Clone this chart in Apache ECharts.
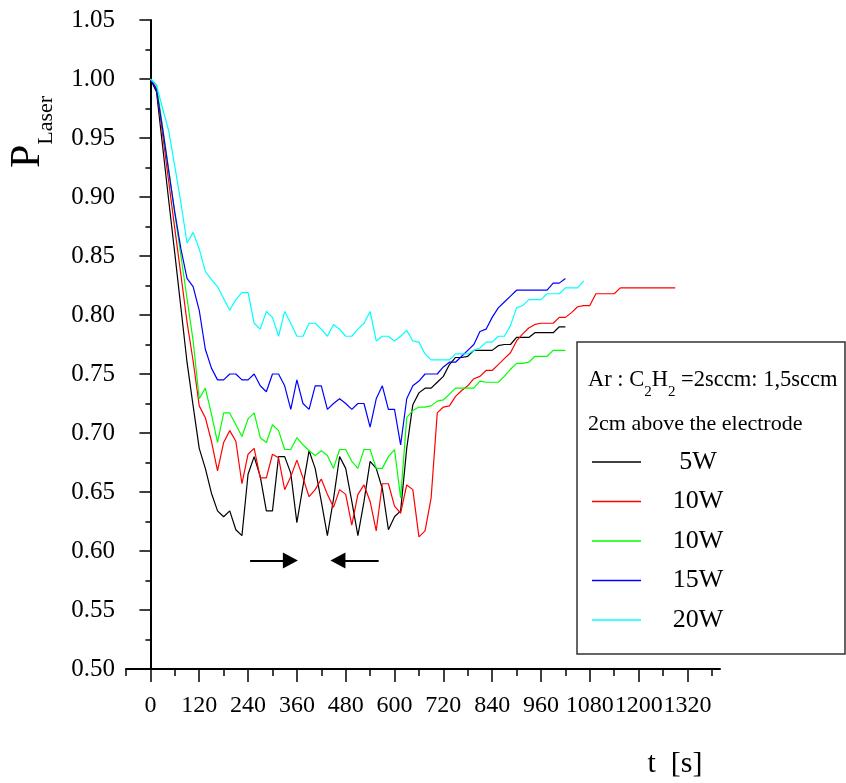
<!DOCTYPE html>
<html><head><meta charset="utf-8">
<script src="https://cdn.jsdelivr.net/npm/echarts@6/dist/echarts.min.js"></script>
<style>html,body{margin:0;padding:0;background:#fff}#c{width:846px;height:783px}</style>
</head><body><div id="c"></div>
<script>
// time axis (s)
const times = [0,15,30,45,60,75,90,105,120,135,150,165,180,195,210,225,240,255,270,285,300,315,330,345,360,375,390,405,420,435,450,465,480,495,510,525,540,555,570,585,600,615,630,645,660,675,690,705,720,735,750,765,780,795,810,825,840,855,870,885,900,915,930,945,960,975,990,1005,1020,1035,1050,1065,1080,1095,1110,1125,1140,1155,1170,1185,1200,1215,1230,1245,1260,1275,1290];

const p5W = [1.000,0.989,0.943,0.897,0.852,0.806,0.760,0.723,0.687,0.670,0.649,0.634,0.629,0.634,0.618,0.613,0.665,0.680,0.663,0.634,0.634,0.680,0.680,0.666,0.624,0.655,0.685,0.670,0.642,0.613,0.644,0.680,0.670,0.642,0.613,0.642,0.676,0.670,0.653,0.618,0.629,0.634,0.687,0.724,0.734,0.738,0.738,0.743,0.748,0.758,0.764,0.764,0.765,0.770,0.770,0.770,0.770,0.774,0.775,0.775,0.781,0.781,0.781,0.785,0.785,0.785,0.785,0.790,0.790];

const p10W = [1.000,0.992,0.953,0.913,0.873,0.834,0.794,0.761,0.723,0.713,0.693,0.668,0.692,0.702,0.693,0.657,0.682,0.687,0.662,0.662,0.682,0.679,0.652,0.663,0.677,0.662,0.646,0.652,0.661,0.648,0.637,0.652,0.648,0.622,0.648,0.656,0.642,0.617,0.657,0.657,0.638,0.632,0.656,0.652,0.612,0.617,0.645,0.717,0.722,0.723,0.731,0.736,0.740,0.746,0.748,0.753,0.753,0.758,0.763,0.768,0.778,0.784,0.789,0.792,0.793,0.793,0.793,0.798,0.798,0.802,0.807,0.808,0.808,0.818,0.818,0.818,0.818,0.823,0.823,0.823,0.823,0.823,0.823,0.823,0.823,0.823,0.823];

const p10Wb = [1.000,0.995,0.959,0.923,0.886,0.850,0.814,0.778,0.729,0.738,0.716,0.692,0.717,0.717,0.707,0.697,0.712,0.717,0.696,0.692,0.707,0.702,0.686,0.686,0.696,0.690,0.685,0.681,0.685,0.681,0.670,0.686,0.686,0.676,0.670,0.686,0.686,0.670,0.670,0.680,0.686,0.645,0.713,0.719,0.722,0.722,0.723,0.727,0.728,0.733,0.738,0.738,0.738,0.738,0.744,0.743,0.743,0.743,0.748,0.754,0.759,0.759,0.760,0.765,0.765,0.765,0.770,0.770,0.770];

const p15W = [1.000,0.991,0.958,0.922,0.887,0.856,0.831,0.824,0.804,0.771,0.755,0.745,0.745,0.750,0.750,0.745,0.745,0.750,0.740,0.735,0.750,0.750,0.740,0.720,0.745,0.725,0.720,0.740,0.740,0.720,0.725,0.729,0.725,0.720,0.725,0.725,0.705,0.729,0.740,0.720,0.720,0.690,0.729,0.740,0.744,0.750,0.750,0.750,0.756,0.760,0.760,0.765,0.770,0.775,0.786,0.788,0.798,0.806,0.811,0.816,0.821,0.821,0.821,0.821,0.821,0.821,0.827,0.827,0.831];

const p20W = [1.000,0.995,0.975,0.956,0.926,0.895,0.861,0.870,0.856,0.837,0.830,0.824,0.814,0.804,0.813,0.819,0.819,0.793,0.788,0.803,0.798,0.782,0.803,0.793,0.782,0.782,0.793,0.793,0.788,0.782,0.792,0.788,0.782,0.782,0.788,0.793,0.803,0.778,0.782,0.782,0.778,0.782,0.787,0.778,0.777,0.767,0.762,0.762,0.762,0.762,0.767,0.767,0.767,0.770,0.772,0.777,0.777,0.782,0.782,0.791,0.806,0.808,0.813,0.813,0.813,0.818,0.818,0.818,0.823,0.823,0.823,0.829];

const seriesNames = ['5W','10W','10W ','15W','20W'];
const seriesValues = [p5W, p10W, p10Wb, p15W, p20W];
const seriesColors = ['#000000','#ff0000','#00ff00','#0000ff','#00ffff'];

const xMajorTicks = [0,120,240,360,480,600,720,840,960,1080,1200,1320];
const xMinorTicks = [-60,60,180,300,420,540,660,780,900,1020,1140,1260,1380];

// arrow annotations (t values, P value)
const arrowY = 0.592;
const arrowRight = [245, 344];
const arrowLeft = [561, 461];

const FONT = "'Liberation Serif','Times New Roman',serif";

function pairs(vals){ return vals.map((v,i)=>[times[i], v]); }

const chart = echarts.init(document.getElementById('c'), null, {renderer:'canvas'});

const series = seriesNames.map((n,i)=>({
  name:n, type:'line', data:pairs(seriesValues[i]), symbol:'none', showSymbol:false, silent:true,
  lineStyle:{color:seriesColors[i], width:1.2}, itemStyle:{color:seriesColors[i]},
  emphasis:{disabled:true}, z: 2
}));
series[0].markLine = {
  silent:true, symbol:['none','triangle'], symbolSize:[16,15], animation:false,
  label:{show:false}, emphasis:{disabled:true},
  lineStyle:{color:'#000', width:2, type:'solid'}, itemStyle:{color:'#000'},
  data:[
    [{coord:[arrowRight[0], arrowY]},{coord:[arrowRight[1], arrowY]}],
    [{coord:[arrowLeft[0], arrowY]},{coord:[arrowLeft[1], arrowY]}]
  ]
};

chart.setOption({
  animation:false,
  backgroundColor:'#ffffff',
  grid:{left:126, top:20, width:594, height:649},
  xAxis:[{
    type:'value', min:-60, max:1400, position:'bottom',
    axisLine:{show:true, onZero:false, lineStyle:{color:'#000', width:2}},
    axisTick:{show:true, customValues:xMajorTicks, length:13, lineStyle:{color:'#000', width:1.5}},
    axisLabel:{customValues:xMajorTicks, formatter:v=>String(v), hideOverlap:false, showMaxLabel:true, showMinLabel:true,
      fontFamily:FONT, fontSize:24, color:'#000', margin:25},
    splitLine:{show:false}
  },{
    type:'value', min:-60, max:1400, position:'bottom', gridIndex:0,
    axisLine:{show:false, onZero:false},
    axisTick:{show:true, customValues:xMinorTicks, length:7, lineStyle:{color:'#000', width:1.5}},
    axisLabel:{show:false}, splitLine:{show:false}
  }],
  yAxis:{
    type:'value', min:0.5, max:1.05, interval:0.05,
    axisLine:{show:true, lineStyle:{color:'#000', width:2}},
    axisTick:{show:true, length:11, lineStyle:{color:'#000', width:1.5}},
    minorTick:{show:true, splitNumber:2, length:5, lineStyle:{color:'#000', width:1.5}},
    axisLabel:{formatter:v=>v.toFixed(2), fontFamily:FONT, fontSize:25, color:'#000', margin:11},
    splitLine:{show:false}, minorSplitLine:{show:false}
  },
  legend:{
    orient:'vertical', left:587, top:444, itemWidth:49, itemHeight:1.5, itemGap:13.5,
    icon:'rect', selectedMode:false, data:seriesNames,
    formatter:n=>'{a|'+n.trim()+'}',
    textStyle:{fontFamily:FONT, fontSize:26, color:'#000',
      rich:{a:{width:104, align:'center', fontFamily:FONT, fontSize:26, lineHeight:26, color:'#000'}}}
  },
  series:series,
  graphic:[
    {type:'rect', z:0, silent:true, shape:{x:577, y:342, width:268, height:312},
     style:{fill:'#ffffff', stroke:'#333333', lineWidth:1.5}},
    {type:'text', z:10, silent:true, x:588, y:380,
     style:{text:'{n|Ar : C}{s|2}{n|H}{s|2}{n| =2sccm: 1,5sccm}', align:'left', verticalAlign:'middle', fill:'#000',
       rich:{n:{fontFamily:FONT, fontSize:22.5, lineHeight:40, fill:'#000'},
             s:{fontFamily:FONT, fontSize:15, lineHeight:15, verticalAlign:'bottom', fill:'#000'}}}},
    {type:'text', z:10, silent:true, x:588, y:424,
     style:{text:'2cm above the electrode', align:'left', verticalAlign:'middle', fill:'#000', fontFamily:FONT, fontSize:22}},
    {type:'text', z:10, silent:true, x:28, y:132, rotation:Math.PI/2,
     style:{text:'{p|P}{s|Laser}', align:'center', verticalAlign:'middle', fill:'#000',
       rich:{p:{fontFamily:FONT, fontSize:42, lineHeight:58, fill:'#000'},
             s:{fontFamily:FONT, fontSize:22, lineHeight:22, verticalAlign:'bottom', fill:'#000'}}}},
    {type:'text', z:10, silent:true, x:675, y:764,
     style:{text:'t  [s]', align:'center', verticalAlign:'middle', fill:'#000', fontFamily:FONT, fontSize:30}}
  ]
});
</script>
</body></html>
